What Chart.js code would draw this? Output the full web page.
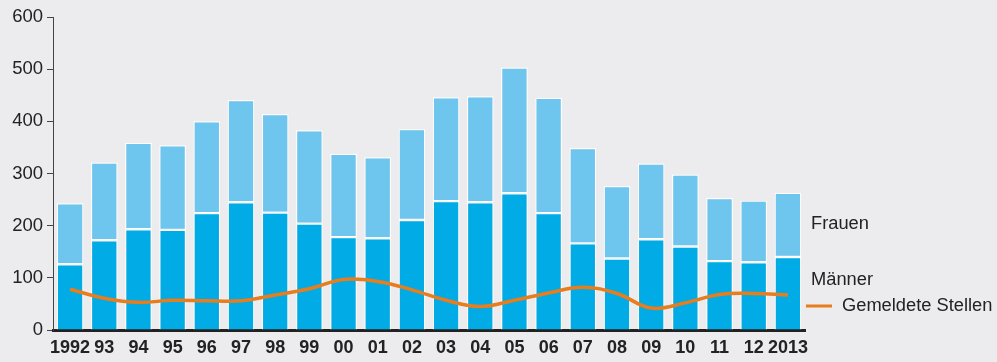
<!DOCTYPE html>
<html>
<head>
<meta charset="utf-8">
<script src="https://cdn.jsdelivr.net/npm/chart.js@4/dist/chart.umd.min.js"></script>
<style>
html,body{margin:0;padding:0;background:#ececee;}
#wrap{position:relative;width:997px;height:362px;}
</style>
</head>
<body>
<div id="wrap"><canvas id="c" width="997" height="362"></canvas></div>
<script>
const categories = ['1992','93','94','95','96','97','98','99','00','01','02','03','04','05','06','07','08','09','10','11','12','2013'];
const maenner = [126,172,193,192,224,245,225,204,178,176,211,247,245,262,224,166,137,174,160,132,130,140];
const gesamt  = [243,321,359,354,400,441,414,383,338,331,385,446,448,503,445,349,276,319,298,253,248,263];
const frauen = gesamt.map((t,i)=>t-maenner[i]);
const stellen = [78,61,53,57,56,56,67,79,97,93,77,57,45,57,71,82,70,42,52,68,70,67];
const yTicks = [0,100,200,300,400,500,600];

const textColor = '#222';
const font = "'Liberation Sans', Arial, sans-serif";

const labelsPlugin = {
  id:'sideLabels',
  afterDraw(chart){
    const ctx = chart.ctx;
    const ca = chart.chartArea;
    ctx.save();
    ctx.font = "18.3px " + font;
    ctx.fillStyle = textColor;
    ctx.textBaseline = 'middle';
    ctx.textAlign = 'left';
    ctx.fillText('Frauen', ca.right + 6, 224);
    ctx.fillText('Männer', ca.right + 6, 280);
    ctx.strokeStyle = '#e87d1e';
    ctx.lineWidth = 3;
    ctx.beginPath();
    ctx.moveTo(ca.right + 1, 306);
    ctx.lineTo(ca.right + 27, 306);
    ctx.stroke();
    ctx.fillText('Gemeldete Stellen', ca.right + 37, 306);
    ctx.restore();
  }
};

new Chart(document.getElementById('c'), {
  type:'bar',
  data:{
    labels:categories,
    datasets:[
      {type:'line', label:'Gemeldete Stellen', data:stellen, borderColor:'#e87d1e', borderWidth:3.5, pointRadius:0, tension:0.4, stack:'line', order:0, fill:false},
      {label:'Männer', data:maenner, backgroundColor:'#00abe6', borderColor:'#ffffff', borderWidth:1.2, borderSkipped:'bottom', stack:'s', order:1, barPercentage:0.78, categoryPercentage:1},
      {label:'Frauen', data:frauen, backgroundColor:'#6ec6ee', borderColor:'#ffffff', borderWidth:1.2, borderSkipped:false, stack:'s', order:1, barPercentage:0.78, categoryPercentage:1}
    ]
  },
  options:{
    responsive:false,
    animation:false,
    layout:{padding:{top:17,right:192,left:0,bottom:0}},
    plugins:{legend:{display:false}, tooltip:{enabled:false}},
    scales:{
      x:{
        stacked:true,
        grid:{display:false, drawTicks:false},
        border:{display:true, color:'#222', width:3},
        ticks:{color:textColor, font:{family:font, size:18, weight:'bold'}, padding:7, maxRotation:0, autoSkip:false},
        afterFit(s){ s.height = 32; }
      },
      y:{
        stacked:true,
        min:0, max:600,
        afterBuildTicks(s){ s.ticks = yTicks.map(v=>({value:v})); },
        grid:{display:true, drawOnChartArea:false, drawTicks:true, tickLength:6, color:'#444', lineWidth:1},
        border:{display:true, color:'#444', width:1},
        ticks:{color:textColor, font:{family:font, size:18.5}, padding:4},
        afterFit(s){ s.width = 53; }
      }
    }
  },
  plugins:[labelsPlugin]
});
</script>
</body>
</html>
